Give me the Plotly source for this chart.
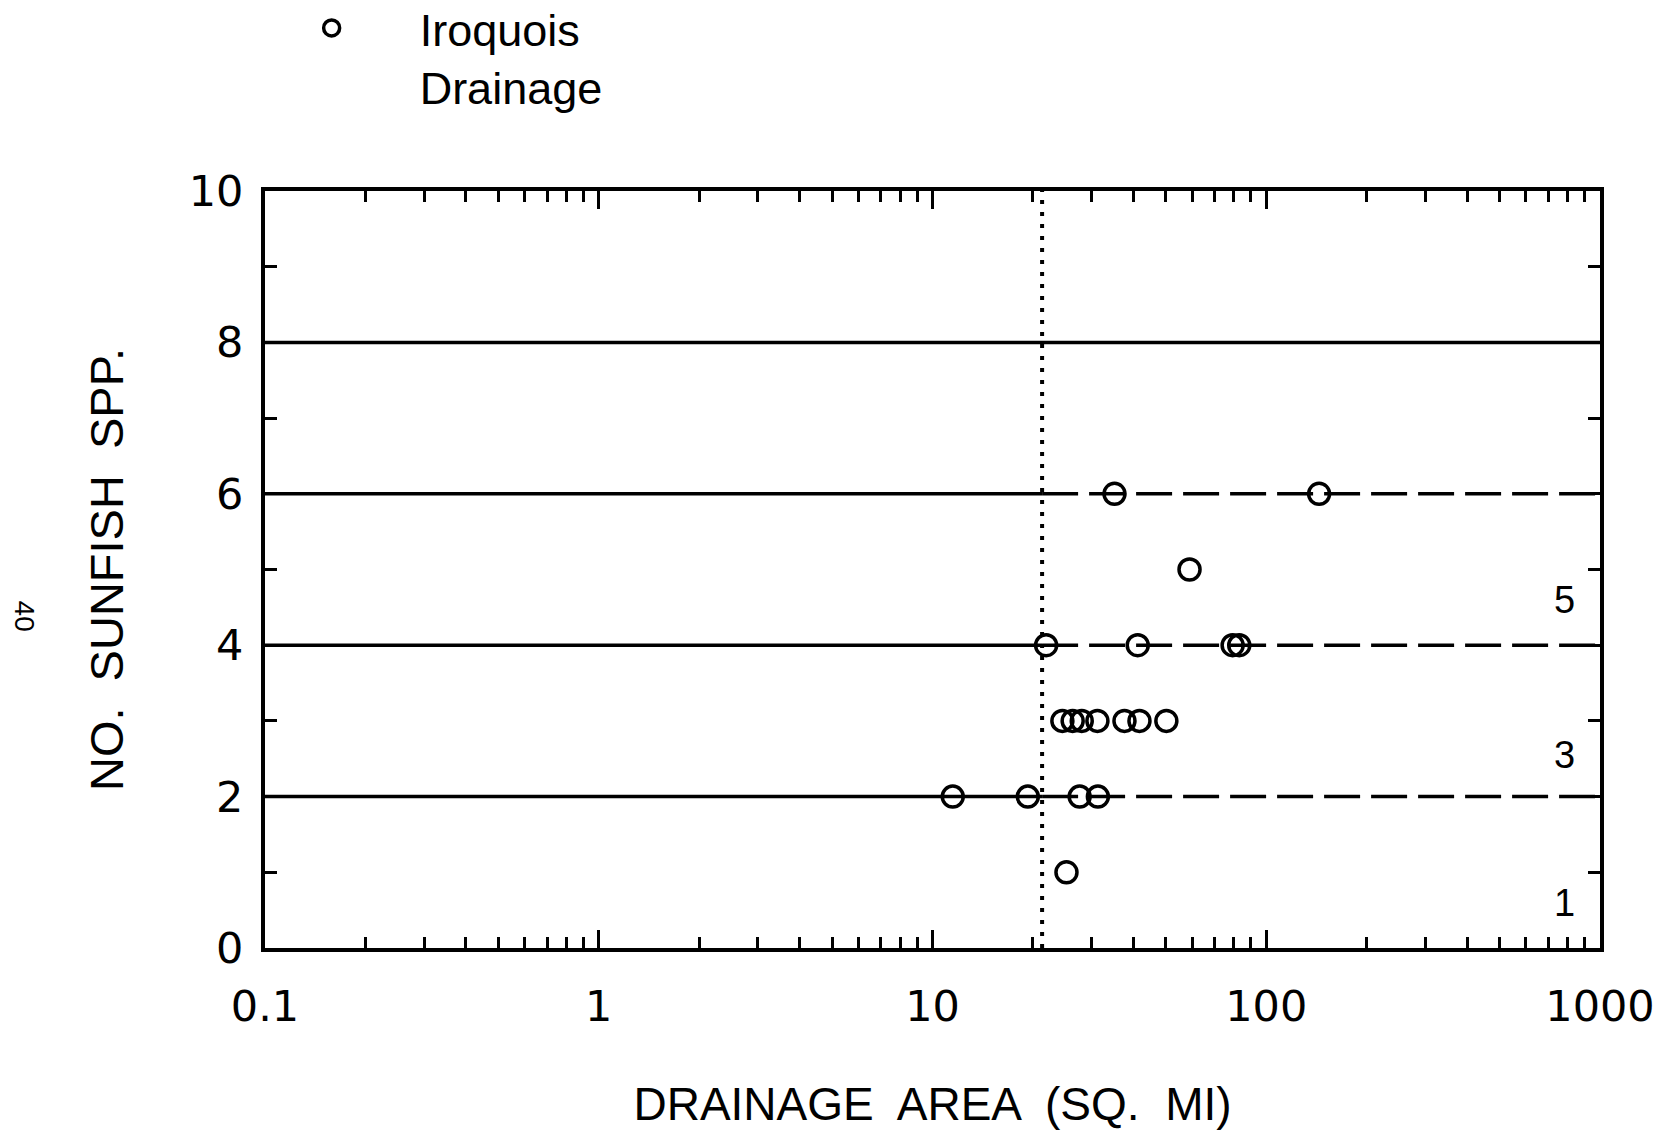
import math
import plotly.graph_objects as go

# ---------------- data ----------------
area = [11.5, 19.3, 27.6, 31.3,
        25.2,
        24.5, 26.3, 28.0, 31.2, 37.6, 41.7, 50.2,
        21.9, 41.2, 79.3, 83.0,
        58.9,
        35.1, 144.0]
species = [2, 2, 2, 2,
           1,
           3, 3, 3, 3, 3, 3, 3,
           4, 4, 4, 4,
           5,
           6, 6]

threshold_area = 21.3          # dotted vertical reference
split_levels = [2, 4, 6]       # solid left of threshold, dashed right
full_levels = [8]              # solid across whole plot
x_min, x_max = 0.1, 1000
y_min, y_max = 0, 10

zone_labels = ["5", "3", "1"]
zone_label_y = [4.6, 2.55, 0.6]
zone_label_x = 785

x_tickvals = [0.1, 1, 10, 100, 1000]
x_ticktext = ["0.1", "1", "10", "100", "1000"]
y_tickvals = [0, 2, 4, 6, 8, 10]
y_ticktext = ["0", "2", "4", "6", "8", "10"]

LBL = "Liberation Sans, Arial, sans-serif"
TCK = "DejaVu Sans, sans-serif"
BLACK = "#000000"

fig = go.Figure()

for lv in split_levels:
    fig.add_trace(go.Scatter(x=[x_min, threshold_area], y=[lv, lv], mode="lines",
                             line=dict(color=BLACK, width=3.5), showlegend=False, hoverinfo="skip"))
    fig.add_trace(go.Scatter(x=[threshold_area, x_max], y=[lv, lv], mode="lines",
                             line=dict(color=BLACK, width=3.5, dash="36px,11px"),
                             showlegend=False, hoverinfo="skip"))
for lv in full_levels:
    fig.add_trace(go.Scatter(x=[x_min, x_max], y=[lv, lv], mode="lines",
                             line=dict(color=BLACK, width=3.5), showlegend=False, hoverinfo="skip"))

fig.add_trace(go.Scatter(x=[threshold_area, threshold_area], y=[y_min, y_max], mode="lines",
                         line=dict(color=BLACK, width=4, dash="4px,8px"),
                         showlegend=False, hoverinfo="skip"))

fig.add_trace(go.Scatter(x=area, y=species, mode="markers", name="Iroquois<br>Drainage",
                         marker=dict(symbol="circle-open", size=21, color=BLACK,
                                     line=dict(color=BLACK, width=3.5)),
                         showlegend=True))

for t, yv in zip(zone_labels, zone_label_y):
    fig.add_annotation(x=math.log10(zone_label_x), y=yv, xref="x", yref="y", text=t,
                       showarrow=False, font=dict(family=LBL, size=38, color=BLACK))

fig.add_annotation(x=-0.193, y=0.438, xref="paper", yref="paper", text="40",
                   textangle=90, showarrow=False, font=dict(family=LBL, size=28, color=BLACK))

fig.update_layout(
    width=1666, height=1130,
    margin=dict(l=265, r=66, t=191, b=182, autoexpand=False),
    paper_bgcolor="white", plot_bgcolor="white",
    font=dict(family=LBL, color=BLACK),
    legend=dict(x=-0.016, y=1.2626, xanchor="left", yanchor="top",
                font=dict(family=LBL, size=45, color=BLACK),
                itemwidth=166, valign="top", bgcolor="rgba(0,0,0,0)"),
    xaxis=dict(type="log", range=[math.log10(x_min), math.log10(x_max)],
               showgrid=False, zeroline=False,
               showline=True, linecolor=BLACK, linewidth=4, mirror="allticks",
               ticks="inside", ticklen=18, tickwidth=3, tickcolor=BLACK,
               tickvals=x_tickvals, ticktext=x_ticktext,
               tickfont=dict(family=TCK, size=43, color=BLACK),
               ticklabelstandoff=17,
               minor=dict(ticks="inside", ticklen=11, tickwidth=3, tickcolor=BLACK,
                          dtick="D1", showgrid=False),
               title=dict(text="DRAINAGE  AREA  (SQ.  MI)",
                          font=dict(family=LBL, size=46, color=BLACK), standoff=74)),
    yaxis=dict(range=[y_min, y_max], showgrid=False, zeroline=False,
               showline=True, linecolor=BLACK, linewidth=4, mirror="allticks",
               ticks="inside", ticklen=12, tickwidth=3, tickcolor=BLACK,
               tickvals=y_tickvals, ticktext=y_ticktext,
               tickfont=dict(family=TCK, size=43, color=BLACK),
               ticklabelstandoff=9,
               minor=dict(ticks="inside", ticklen=12, tickwidth=3, tickcolor=BLACK,
                          dtick=1, showgrid=False),
               title=dict(text="NO.  SUNFISH  SPP.",
                          font=dict(family=LBL, size=47, color=BLACK), standoff=51)),
)

fig.write_html("out.html", config={"displayModeBar": False},
               post_script="document.body.style.margin='0px';")
